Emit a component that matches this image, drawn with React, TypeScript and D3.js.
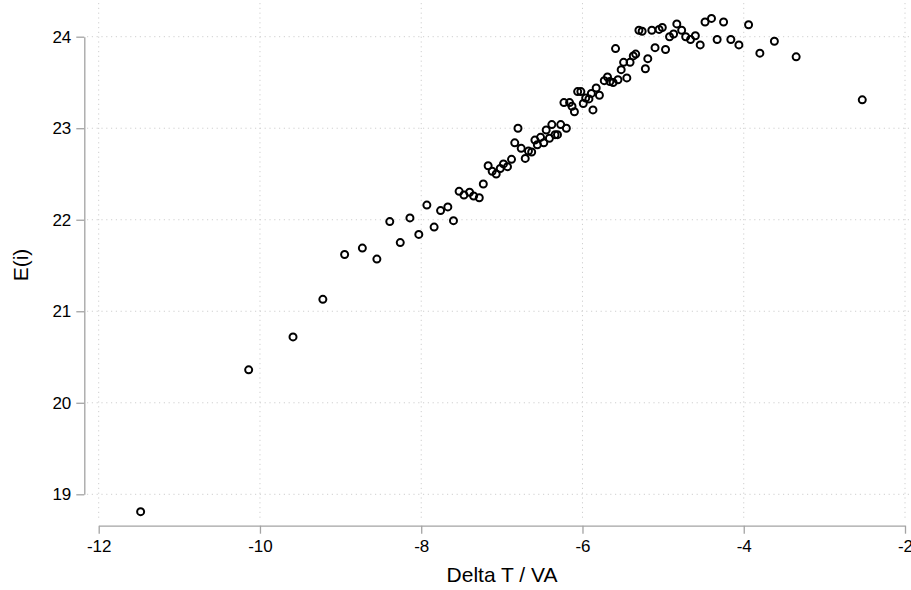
// App.tsx
// scatter of E(i) against Delta T / VA, Stata-like look

import React, { useEffect, useRef } from 'react'
import * as d3 from 'd3'

const deltaT = [
  -11.48, -10.14, -9.59, -9.22, -8.95, -8.73, -8.55, -8.39, -8.26, -8.14,
  -8.03, -7.93, -7.84, -7.76, -7.67, -7.60, -7.53, -7.47, -7.40, -7.35,
  -7.28, -7.23, -7.17, -7.12, -7.07, -7.02, -6.98, -6.93, -6.88, -6.84,
  -6.80, -6.76, -6.71, -6.67, -6.63, -6.59, -6.56, -6.52, -6.48, -6.45,
  -6.41, -6.38, -6.34, -6.31, -6.27, -6.20, -6.23, -6.16, -6.13, -6.10,
  -6.06, -6.02, -5.99, -5.96, -5.92, -5.89, -5.87, -5.83, -5.79, -5.73,
  -5.69, -5.66, -5.62, -5.59, -5.56, -5.52, -5.49, -5.45, -5.41, -5.37,
  -5.34, -5.30, -5.26, -5.22, -5.19, -5.14, -5.10, -5.05, -5.01, -4.97,
  -4.92, -4.87, -4.83, -4.77, -4.72, -4.66, -4.60, -4.54, -4.48, -4.40,
  -4.33, -4.25, -4.16, -4.06, -3.94, -3.80, -3.62, -3.35, -2.53
]

const energy = [
  18.81, 20.36, 20.72, 21.13, 21.62, 21.69, 21.57, 21.98, 21.75, 22.02,
  21.84, 22.16, 21.92, 22.10, 22.14, 21.99, 22.31, 22.27, 22.30, 22.26,
  22.24, 22.39, 22.59, 22.53, 22.50, 22.56, 22.61, 22.58, 22.66, 22.84,
  23.00, 22.78, 22.67, 22.75, 22.74, 22.87, 22.82, 22.90, 22.84, 22.98,
  22.89, 23.04, 22.93, 22.93, 23.04, 23.00, 23.28, 23.28, 23.24, 23.18,
  23.40, 23.40, 23.27, 23.33, 23.32, 23.38, 23.20, 23.44, 23.36, 23.52,
  23.56, 23.51, 23.50, 23.87, 23.53, 23.64, 23.72, 23.55, 23.72, 23.79,
  23.81, 24.07, 24.06, 23.65, 23.76, 24.07, 23.88, 24.08, 24.10, 23.86,
  24.00, 24.03, 24.14, 24.07, 24.00, 23.97, 24.01, 23.91, 24.16, 24.20,
  23.97, 24.16, 23.97, 23.91, 24.13, 23.82, 23.95, 23.78, 23.31
]

const xTicks = [-12, -10, -8, -6, -4, -2]
const yTicks = [19, 20, 21, 22, 23, 24]
const xLabel = 'Delta T / VA'
const yLabel = 'E(i)'

function App () {
  const ref = useRef<SVGSVGElement>(null)

  useEffect(() => {
    const svg = d3.select(ref.current)
    svg.selectAll('*').remove()

    const font = 'Liberation Sans, Arial, Helvetica, sans-serif'
    const axisColor = '#a3a3a3'
    const gridColor = '#cfcfcf'
    const plain = (d: number) => String(d) // ascii hyphen, no decimals

    const x = d3.scaleLinear().domain([-12, -2]).range([98.7, 905])
    const y = d3.scaleLinear().domain([19, 24]).range([494.3, 36.7])

    // dotted grid
    const grid = svg.append('g')
      .attr('stroke', gridColor)
      .attr('stroke-width', 1)
      .attr('stroke-dasharray', '1.2,3.6')
    grid.selectAll('line.v')
      .data(xTicks)
      .enter()
      .append('line')
      .attr('x1', d => x(d)).attr('x2', d => x(d))
      .attr('y1', 3).attr('y2', 521)
    grid.selectAll('line.h')
      .data(yTicks)
      .enter()
      .append('line')
      .attr('x1', 87).attr('x2', 909)
      .attr('y1', d => y(d)).attr('y2', d => y(d))

    // y axis
    const yAxis = svg.append('g')
      .attr('transform', 'translate(84.3,0)')
      .call(d3.axisLeft(y).tickValues(yTicks).tickFormat(plain).tickSize(8).tickPadding(5).tickSizeOuter(0))
    yAxis.select('.domain').attr('stroke', axisColor).attr('stroke-width', 1.3)
    yAxis.selectAll('.tick line').attr('stroke', axisColor).attr('stroke-width', 1.3)
    yAxis.selectAll('.tick text')
      .attr('fill', '#000')
      .style('font-family', font)
      .style('font-size', '17px')

    // x axis
    const xAxis = svg.append('g')
      .attr('transform', 'translate(0,525.7)')
      .call(d3.axisBottom(x).tickValues(xTicks).tickFormat(plain).tickSize(8).tickPadding(6).tickSizeOuter(0))
    xAxis.select('.domain').attr('stroke', axisColor).attr('stroke-width', 1.3)
    xAxis.selectAll('.tick line').attr('stroke', axisColor).attr('stroke-width', 1.3)
    xAxis.selectAll('.tick text')
      .attr('fill', '#000')
      .style('font-family', font)
      .style('font-size', '17px')

    // markers
    svg.append('g')
      .selectAll('circle')
      .data(deltaT)
      .enter()
      .append('circle')
      .attr('cx', d => x(d))
      .attr('cy', (d, i) => y(energy[i]))
      .attr('r', 3.5)
      .attr('fill', 'none')
      .attr('stroke', '#000')
      .attr('stroke-width', 2)

    svg.append('text')
      .attr('text-anchor', 'middle')
      .attr('x', 502)
      .attr('y', 582)
      .style('font-family', font)
      .style('font-size', '21px')
      .text(xLabel)

    svg.append('g')
      .attr('transform', 'translate(27.5,265)')
      .append('text')
      .attr('text-anchor', 'middle')
      .attr('transform', 'rotate(-90)')
      .style('font-family', font)
      .style('font-size', '21px')
      .text(yLabel)
  }, [])

  return (
    <svg
      ref={ref}
      width={911}
      height={590}
      style={{ position: 'absolute', left: 0, top: 0, background: '#fff' }}
    />
  )
}

export default App
